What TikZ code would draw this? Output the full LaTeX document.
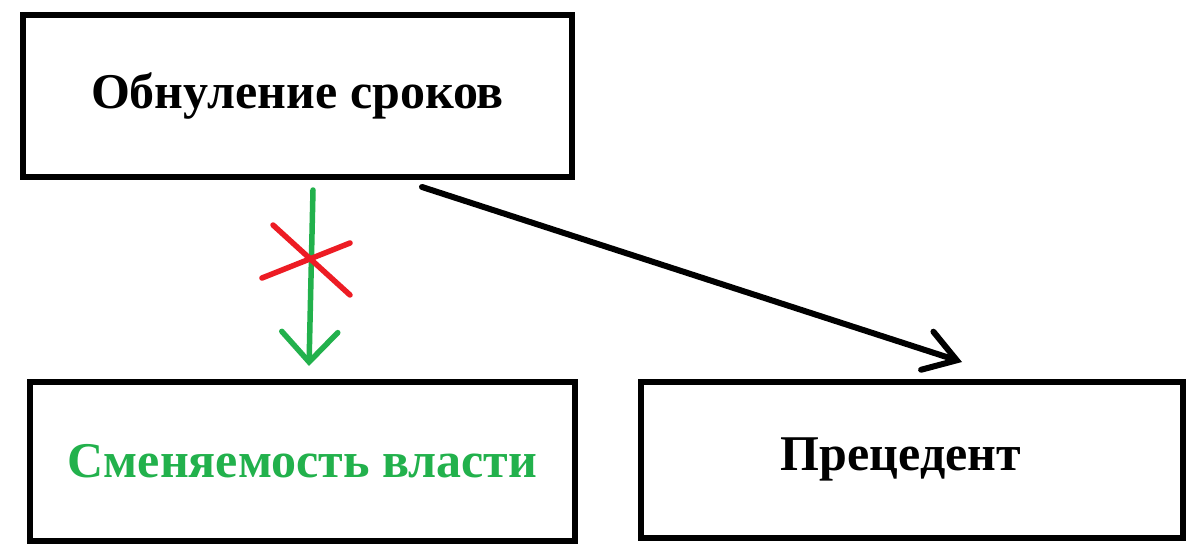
\documentclass[tikz,border=0pt]{standalone}
\usepackage{fontspec}
\setmainfont{Liberation Serif}
\usetikzlibrary{arrows.meta}
\definecolor{pgreen}{RGB}{34,177,76}
\definecolor{pred}{RGB}{237,28,36}
\begin{document}
\begin{tikzpicture}[x=1pt,y=-1pt,
  box/.style={draw=black,line width=6pt,fill=white,inner sep=0pt,
    font=\fontsize{50}{54}\selectfont\bfseries},
  greenarrow/.style={draw=pgreen,line width=5.5pt,line cap=round,
    -{Straight Barb[length=30pt,width=56pt,line cap=round]}},
  blackarrow/.style={draw=black,line width=6pt,line cap=round,
    -{Straight Barb[length=31pt,width=40pt,line cap=round]}},
  cross/.style={draw=pred,line width=5.5pt,line cap=round}]
\useasboundingbox[fill=white] (0,0) rectangle (1200,559);
\node[box,minimum width=549pt,minimum height=162pt] (top) at (297.5,96) {Обнуление сроков};
\node[box,minimum width=545pt,minimum height=159pt,text=pgreen] (left) at (302.5,461) {Сменяемость власти};
\node[box,minimum width=542pt,minimum height=156pt] (right) at (912,459.5) {\hspace*{-22pt}Прецедент};
\coordinate (gs) at (313,190);
\coordinate (ge) at (309,366);
\coordinate (bs) at (422,187);
\coordinate (be) at (962,362);
\draw[greenarrow] (gs) -- (ge);
\draw[cross] (273,225) -- (350,295);
\draw[cross] (262,278) -- (350,243);
\draw[blackarrow] (bs) -- (be);
\end{tikzpicture}
\end{document}
